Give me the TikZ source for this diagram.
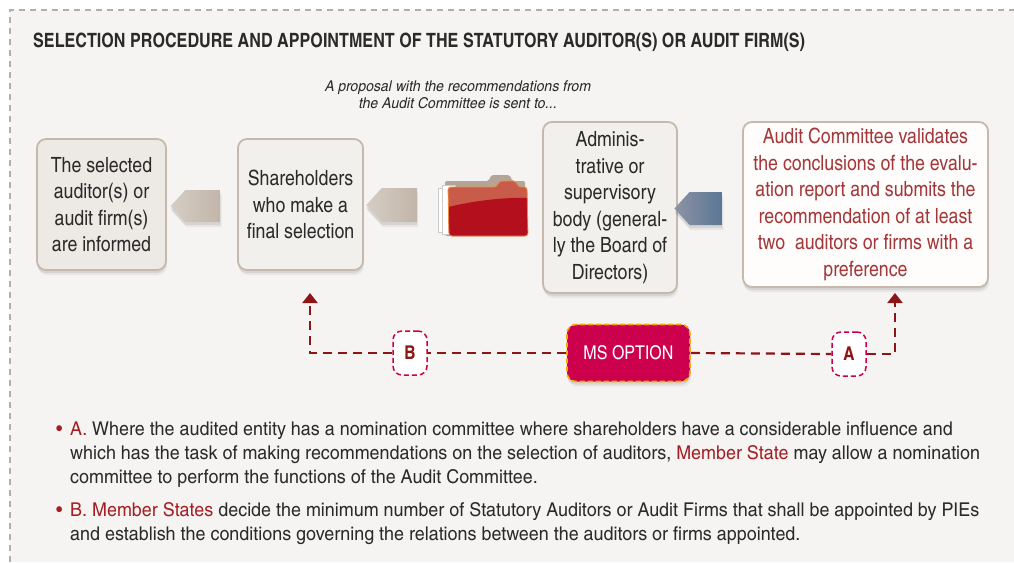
\documentclass[tikz,border=0pt]{standalone}
\usepackage{fontspec}
\setmainfont{texgyreheroscn-regular.otf}[BoldFont=texgyreheroscn-bold.otf, ItalicFont=texgyreheroscn-italic.otf, BoldItalicFont=texgyreheroscn-bolditalic.otf]
\newfontfamily\bodyfont{texgyreheroscn-regular.otf}[FakeStretch=1.15, ItalicFont=texgyreheroscn-italic.otf, BoldFont=texgyreheroscn-bold.otf]
\newfontfamily\boxfont{texgyreheroscn-regular.otf}[FakeStretch=1.03, BoldFont=texgyreheroscn-bold.otf]
\usetikzlibrary{shapes.symbols, arrows.meta, shadows}
\definecolor{panel}{HTML}{F6F4F2}
\definecolor{framec}{HTML}{B8ADA2}
\definecolor{boxborder}{HTML}{C5B9AE}
\definecolor{boxtext}{HTML}{2A2A2A}
\definecolor{boxa}{HTML}{EDE9E5}
\definecolor{boxb}{HTML}{F2F0ED}
\definecolor{boxc}{HTML}{FEFDFC}
\definecolor{redtext}{HTML}{A3373A}
\definecolor{tanL}{HTML}{D5CDC4}
\definecolor{tanR}{HTML}{C2B5A8}
\definecolor{blueL}{HTML}{8E93A3}
\definecolor{blueR}{HTML}{5A7696}
\definecolor{msred}{HTML}{CC004C}
\definecolor{msorange}{HTML}{F2A900}
\definecolor{darkred}{HTML}{8C1515}
\definecolor{msred2}{HTML}{A31F24}
\definecolor{foldtan}{HTML}{B3A699}
\definecolor{foldlight}{HTML}{C95B4B}
\definecolor{folddark}{HTML}{B30F1C}
\definecolor{foldedge}{HTML}{EE8A3A}
\begin{document}
\begin{tikzpicture}[x=1pt,y=-1pt,
  softshadow/.style={drop shadow={shadow xshift=0pt,shadow yshift=-3pt,opacity=0.08,fill=black},
                     drop shadow={shadow xshift=1pt,shadow yshift=-5pt,opacity=0.05,fill=black}},
  box/.style={draw=boxborder, line width=1.8pt, rounded corners=9pt, align=center, text=boxtext,
              font=\boxfont\fontsize{21}{26.5}\selectfont, inner sep=0pt, softshadow},
  arrowL/.style={signal, signal to=west, signal pointer angle=95, inner sep=0pt, draw=none, softshadow},
  msbox/.style={fill=msred, draw=msorange, dash pattern=on 5pt off 3pt, line width=1.6pt, rounded corners=9pt,
                text=white, font=\boxfont\fontsize{19}{20}\selectfont, minimum width=123pt, minimum height=57pt, softshadow},
  badge/.style={fill=white, draw=msred, dash pattern=on 5pt off 3pt, line width=1.5pt, rounded corners=9pt,
                text=darkred, font=\bfseries\fontsize{19}{20}\selectfont, minimum width=34pt, minimum height=44pt, inner sep=0pt},
  conn/.style={draw=darkred, line width=2.2pt, dash pattern=on 9pt off 6pt},
  tipstyle/.style={-{Triangle[width=15pt,length=10pt]}},
  bullettext/.style={align=left, text=boxtext, font=\bodyfont\fontsize{19}{24}\selectfont, inner sep=0pt}
]
\useasboundingbox (0,0) rectangle (1014,562);
\fill[white] (0,0) rectangle (1014,562);
\fill[panel] (10,10) rectangle (1014,562);
\draw[framec, line width=1.8pt, dash pattern=on 6pt off 5pt] (10,562) -- (10,10) -- (1014,10);

\node[anchor=base west, text=boxtext, font=\bfseries\fontsize{19.7}{22}\selectfont, inner sep=0pt] (title) at (33,47)
  {SELECTION PROCEDURE AND APPOINTMENT OF THE STATUTORY AUDITOR(S) OR AUDIT FIRM(S)};

\node[align=center, text=boxtext, font=\bodyfont\itshape\fontsize{14.9}{17}\selectfont, inner sep=0pt] (caption) at (458,95)
  {A proposal with the recommendations from\\the Audit Committee is sent to...};

\node[box, fill=boxa, minimum width=129pt, minimum height=131pt] (informed) at (101.5,204.5)
  {The selected\\auditor(s) or\\audit firm(s)\\are informed};
\node[box, fill=boxb, minimum width=125pt, minimum height=131pt] (share) at (300.5,204.5)
  {Shareholders\\who make a\\final selection};
\node[box, fill=boxb, minimum width=134pt, minimum height=171pt] (admin) at (610,207.5)
  {Adminis-\\trative or\\supervisory\\body (general-\\ly the Board of\\Directors)};
\node[box, fill=boxc, text=redtext, minimum width=245pt, minimum height=165pt] (audit) at (865.5,204.5)
  {Audit Committee validates\\the conclusions of the evalu-\\ation report and submits the\\recommendation of at least\\two\ \ auditors or firms with a\\preference};

\node[arrowL, left color=tanL, right color=tanR, minimum width=50pt, minimum height=32pt] (arr1) at (203,206) {};
\node[arrowL, left color=tanL, right color=tanR, minimum width=51pt, minimum height=34pt] (arr2) at (399.5,205) {};
\node[arrowL, left color=blueL, right color=blueR, minimum width=48pt, minimum height=33pt] (arr3) at (706,208.5) {};

% folder icon
\fill[foldtan, rounded corners=2pt] (445,236) -- (445,181) -- (489,181) -- (491,175) -- (510,175) -- (512,181) -- (525,181) -- (525,236) -- cycle;
\draw[gray!40, fill=white] (438,188) rectangle (452,232);
\draw[gray!40, fill=white] (442,185) rectangle (455,234);
\begin{scope}
\clip[rounded corners=3pt] (448,187) -- (497,187) -- (499,181) -- (516,181) -- (518,187) -- (527,187) -- (528,236) -- (449,236) -- cycle;
\fill[foldlight] (440,175) rectangle (535,240);
\fill[folddark] (440,209) .. controls (475,200) and (505,197) .. (535,198) -- (535,240) -- (440,240) -- cycle;
\end{scope}
\draw[foldedge, line width=0.8pt, rounded corners=3pt] (448,187) -- (497,187) -- (499,181) -- (516,181) -- (518,187) -- (527,187) -- (528,236) -- (449,236) -- cycle;

% MS option
\node[msbox] (ms) at (628.5,353) {MS OPTION};
\node[badge] (B) at (410,353) {B};
\node[badge] (A) at (849,354) {A};
\coordinate (tipB) at (310,293);
\coordinate (tipA) at (895,293);
\draw[conn] (ms.west) -- (B.east);
\draw[conn, tipstyle] (B.west) -| (tipB);
\draw[conn] (ms.east) -- (A.west);
\draw[conn, tipstyle] (A.east) -| (tipA);

% bullets (base anchor = baseline of the last line)
\node[bullettext, anchor=base west] (bulA) at (56,483)
  {\makebox[14pt][l]{\textcolor{msred2}{\textbullet}}\textcolor{msred2}{A.} Where the audited entity has a nomination committee where shareholders have a considerable influence and\\
   \hspace*{14pt}which has the task of making recommendations on the selection of auditors, \textcolor{msred2}{Member State} may allow a nomination\\
   \hspace*{14pt}committee to perform the functions of the Audit Committee.};
\node[bullettext, anchor=base west] (bulB) at (56,540)
  {\makebox[14pt][l]{\textcolor{msred2}{\textbullet}}\textcolor{msred2}{B. Member States} decide the minimum number of Statutory Auditors or Audit Firms that shall be appointed by PIEs\\
   \hspace*{14pt}and establish the conditions governing the relations between the auditors or firms appointed.};
\end{tikzpicture}
\end{document}
